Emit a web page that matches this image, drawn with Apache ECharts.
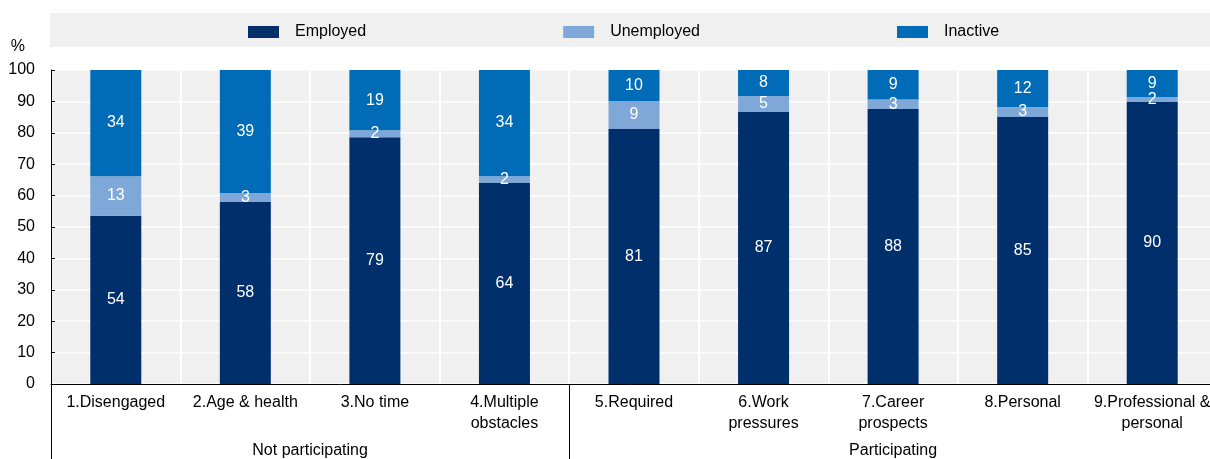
<!DOCTYPE html>
<html><head><meta charset="utf-8">
<script src="https://cdn.jsdelivr.net/npm/echarts@6/dist/echarts.min.js"></script>
<style>html,body{margin:0;padding:0;background:#fff}#c{width:1210px;height:459px}</style>
</head><body><div id="c"></div>
<script>
const categories = ['1.Disengaged','2.Age & health','3.No time','4.Multiple\nobstacles','5.Required','6.Work\npressures','7.Career\nprospects','8.Personal','9.Professional &\npersonal'];
const employed   = [53.6, 58.0, 78.6, 64.0, 81.2, 86.6, 87.6, 85.0, 89.8];
const unemployed = [12.6, 2.8, 2.2, 2.2, 8.9, 5.1, 3.0, 3.2, 1.6];
const inactive   = [33.8, 39.2, 19.2, 33.8, 9.9, 8.3, 9.4, 11.8, 8.6];
const seriesNames = ['Employed','Unemployed','Inactive'];
const groupNames = ['Not participating','Participating'];
const groupBounds = [0, 4, 9];        // category index boundaries of the groups
const yTicks = [0,10,20,30,40,50,60,70,80,90,100];

const FONT = 'Liberation Sans, Arial, sans-serif';
const colors = ['#002F6C','#7FA8D9','#006BB6'];
const groupCenters = groupNames.map((g,i)=>(groupBounds[i]+groupBounds[i+1])/2);

const chart = echarts.init(document.getElementById('c'), null, {renderer:'canvas'});
const mk = (name, data, color) => ({
  name, type:'bar', stack:'s', data, barWidth:51, clip:true,
  itemStyle:{color},
  label:{show:true, position:'inside', color:'#fff', fontSize:16, fontFamily:FONT,
    formatter:p=>Math.round(p.value)}
});
chart.setOption({
  animation:false,
  textStyle:{fontFamily:FONT},
  graphic:[{type:'rect', z:-1, shape:{x:50,y:13,width:1160,height:34}, style:{fill:'#f0f0f0'}}],
  legend:{
    left:248, top:24, padding:0, itemWidth:31, itemHeight:12, itemGap:197,
    icon:'rect',
    textStyle:{fontSize:16, color:'#000', fontFamily:FONT, padding:[0,0,0,11]},
    data:seriesNames
  },
  grid:{left:51, width:1166, top:70, bottom:75, outerBoundsMode:'none', show:true, backgroundColor:'#f0f0f0', borderWidth:0},
  xAxis:[{
    type:'category', data:categories, position:'bottom',
    axisLine:{show:true, lineStyle:{color:'#000', width:1}},
    axisTick:{show:false},
    splitLine:{show:true, lineStyle:{color:'#fff', width:2}},
    axisLabel:{interval:0, color:'#000', fontSize:16, fontFamily:FONT, margin:8, lineHeight:21}
  },{
    type:'value', min:0, max:9, position:'bottom',
    axisLine:{show:false},
    splitLine:{show:false},
    axisTick:{show:true, customValues:[groupBounds[0], groupBounds[1]], length:75, lineStyle:{color:'#000', width:1}},
    axisLabel:{show:true, customValues:groupCenters, margin:59, color:'#000', fontSize:16, fontFamily:FONT,
      formatter:v=>{const i=groupCenters.indexOf(v); return i>=0?groupNames[i]:'';}}
  }],
  yAxis:{
    type:'value', min:0, max:100, interval:10,
    name:'%', nameLocation:'end', nameGap:15,
    nameTextStyle:{color:'#000', fontSize:16, fontFamily:FONT, align:'right', padding:[0,26,0,0]},
    axisLine:{show:true, lineStyle:{color:'#000', width:1}},
    axisTick:{show:true, inside:true, length:4, lineStyle:{color:'#000'}},
    splitLine:{show:true, lineStyle:{color:'#fff', width:1.5}},
    axisLabel:{color:'#000', fontSize:16, fontFamily:FONT, margin:16,
      formatter:v=>yTicks.includes(v)?String(v):''}
  },
  series:[
    mk(seriesNames[0], employed, colors[0]),
    mk(seriesNames[1], unemployed, colors[1]),
    mk(seriesNames[2], inactive, colors[2])
  ]
});
</script></body></html>
